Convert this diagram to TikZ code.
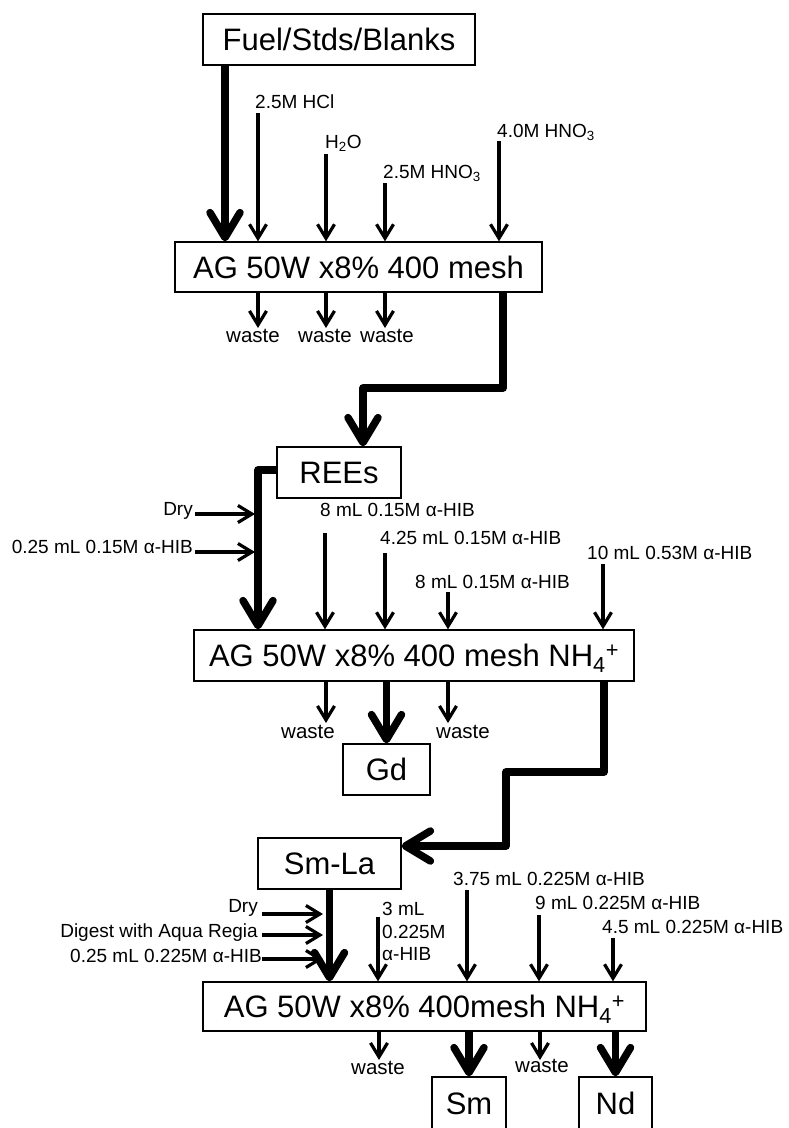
\documentclass[tikz,border=0pt]{standalone}
\usepackage{fontspec}
\setmainfont{Liberation Sans}
\usetikzlibrary{arrows.meta}
\begin{document}
\begin{tikzpicture}[x=1pt,y=-1pt,
  box/.style={draw, line width=1.3pt, inner sep=0pt, text height=22.2pt, text depth=0pt, font=\fontsize{31}{36}\selectfont},
  lab/.style={inner sep=0pt, anchor=base west, font=\fontsize{19}{22}\selectfont},
  labr/.style={inner sep=0pt, anchor=base east, font=\fontsize{19}{22}\selectfont},
  wst/.style={inner sep=0pt, anchor=base, font=\fontsize{20.5}{24}\selectfont},
  thk/.style={line width=7.5pt, line join=round, -{Straight Barb[length=25pt,width=30pt,round]}},
  thn/.style={line width=3.2pt, -{Straight Barb[length=14pt,width=17pt]}}
]
\useasboundingbox (0,0) rectangle (788,1128);

% ---- boxes
\node[box, minimum width=272pt, minimum height=51pt] (fuel) at (339,39.5) {Fuel/Stds/Blanks};
\node[box, minimum width=367pt, minimum height=50pt] (c1) at (358.5,267) {AG 50W x8\% 400 mesh};
\node[box, minimum width=124pt, minimum height=51pt] (rees) at (339,472.5) {REEs};
\node[box, minimum width=440pt, minimum height=51pt] (c2) at (414,655.5) {AG 50W x8\% 400 mesh NH\textsubscript{4}\textsuperscript{+}};
\node[box, minimum width=87pt, minimum height=51pt] (gd) at (386.5,769.5) {Gd};
\node[box, minimum width=143pt, minimum height=51pt] (smla) at (329.5,863.5) {Sm-La};
\node[box, minimum width=443pt, minimum height=49pt] (c3) at (424.5,1006.5) {AG 50W x8\% 400mesh NH\textsubscript{4}\textsuperscript{+}};
\node[box, minimum width=74pt, minimum height=53pt] (sm) at (469,1103.5) {Sm};
\node[box, minimum width=73pt, minimum height=53pt] (nd) at (615.5,1103.5) {Nd};

% ---- column 1
\node[lab] (l11) at (255,108) {2.5M HCl};
\node[lab] (l12) at (325,148) {H\textsubscript{2}O};
\node[lab] (l13) at (383,178) {2.5M HNO\textsubscript{3}};
\node[lab] (l14) at (497,137) {4.0M HNO\textsubscript{3}};
\coordinate (a1) at (258,113);
\coordinate (a2) at (326,154);
\coordinate (a3) at (385,183);
\coordinate (a4) at (499,141);
\foreach \c in {a1,a2,a3,a4} \draw[thn] (\c) -- (\c |- c1.north);
\coordinate (f0) at (225,0);
\draw[thk] (fuel.south -| f0) -- (f0 |- c1.north);
\coordinate (w1) at (258,328);
\coordinate (w2) at (326,328);
\coordinate (w3) at (385,328);
\foreach \c in {w1,w2,w3} \draw[thn] (\c |- c1.south) -- (\c);
\node[wst] (x11) at (253,342) {waste};
\node[wst] (x12) at (325,342) {waste};
\node[wst] (x13) at (387,342) {waste};
\coordinate (p1) at (503,388);
\coordinate (p2) at (363,388);
\draw[thk] (p1 |- c1.south) -- (p1) -- (p2) -- (p2 |- rees.north);

% ---- column 2
\coordinate (p3) at (258,470);
\draw[thk] (rees.west |- p3) -- (p3) -- (p3 |- c2.north);
\node[labr] (l21) at (193,515) {Dry};
\node[labr] (l22) at (193,553) {0.25 mL 0.15M α-HIB};
\coordinate (d1) at (195,514);
\coordinate (d1e) at (255,514);
\coordinate (d2) at (195,552);
\coordinate (d2e) at (255,552);
\draw[thn] (d1) -- (d1e);
\draw[thn] (d2) -- (d2e);
\node[lab] (l23) at (320,516) {8 mL 0.15M α-HIB};
\node[lab] (l24) at (380,544) {4.25 mL 0.15M α-HIB};
\node[lab] (l25) at (415,588) {8 mL 0.15M α-HIB};
\node[lab] (l26) at (587,559) {10 mL 0.53M α-HIB};
\coordinate (b1) at (325,533);
\coordinate (b2) at (385,553);
\coordinate (b3) at (448,592);
\coordinate (b4) at (603,564);
\foreach \c in {b1,b2,b3,b4} \draw[thn] (\c) -- (\c |- c2.north);
\coordinate (v1) at (326,723);
\coordinate (v2) at (448,723);
\foreach \c in {v1,v2} \draw[thn] (\c |- c2.south) -- (\c);
\node[wst] (x21) at (308,738) {waste};
\node[wst] (x22) at (463,738) {waste};
\draw[thk] (gd.north |- c2.south) -- (gd.north);
\coordinate (q1) at (604,772);
\coordinate (q2) at (506,772);
\coordinate (q3) at (506,846);
\draw[thk] (q1 |- c2.south) -- (q1) -- (q2) -- (q3) -- (q3 -| smla.east);

% ---- column 3
\draw[thk] (smla.south) -- (smla.south |- c3.north);
\node[labr] (l31) at (258,912) {Dry};
\node[labr] (l32) at (258,937) {Digest with Aqua Regia};
\node[labr] (l33) at (262,962) {0.25 mL 0.225M α-HIB};
\coordinate (e1) at (262,914);
\coordinate (e1e) at (323,914);
\coordinate (e2) at (262,935);
\coordinate (e2e) at (323,935);
\coordinate (e3) at (262,959);
\coordinate (e3e) at (323,959);
\draw[thn] (e1) -- (e1e);
\draw[thn] (e2) -- (e2e);
\draw[thn] (e3) -- (e3e);
\node[lab] (l34a) at (382,915) {3 mL};
\node[lab] (l34b) at (382,938) {0.225M};
\node[lab] (l34c) at (382,960) {α-HIB};
\node[lab] (l35) at (453,885) {3.75 mL 0.225M α-HIB};
\node[lab] (l36) at (535,909) {9 mL 0.225M α-HIB};
\node[lab] (l37) at (602,933) {4.5 mL 0.225M α-HIB};
\coordinate (g1) at (378,917);
\coordinate (g2) at (467,890);
\coordinate (g3) at (539,915);
\coordinate (g4) at (613,938);
\foreach \c in {g1,g2,g3,g4} \draw[thn] (\c) -- (\c |- c3.north);
\coordinate (u1) at (379,1060);
\coordinate (u2) at (540,1060);
\foreach \c in {u1,u2} \draw[thn] (\c |- c3.south) -- (\c);
\node[wst] (x31) at (378,1074) {waste};
\node[wst] (x32) at (542,1072) {waste};
\draw[thk] (sm.north |- c3.south) -- (sm.north);
\draw[thk] (nd.north |- c3.south) -- (nd.north);
\end{tikzpicture}
\end{document}
